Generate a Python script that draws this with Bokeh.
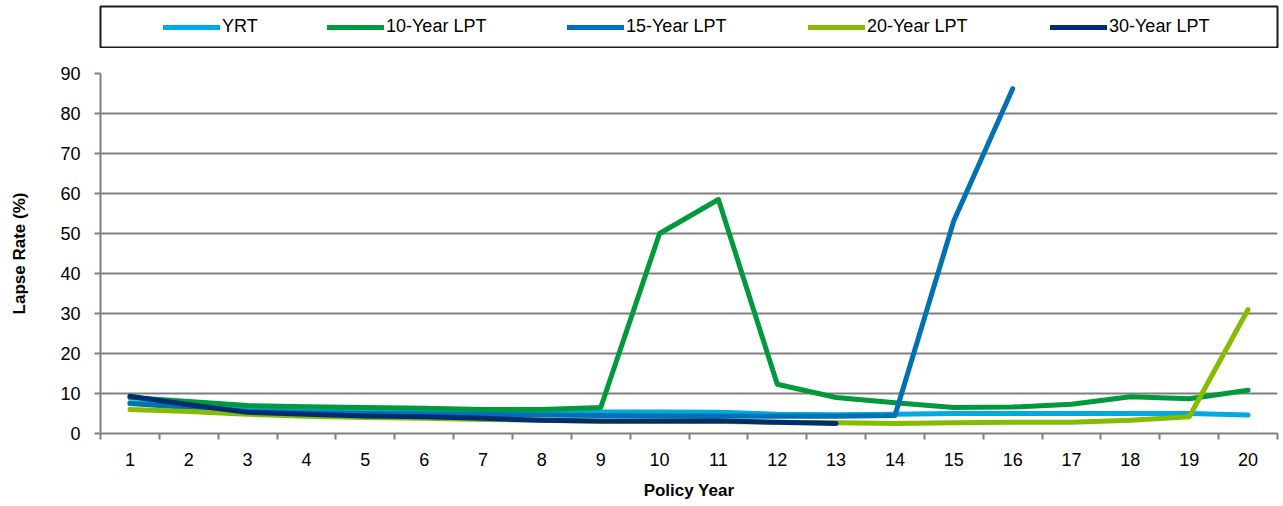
from bokeh.plotting import figure
from bokeh.models import (Legend, LegendItem, FixedTicker, ColumnDataSource, Range1d)
from bokeh.layouts import column
from bokeh.embed import file_html
from bokeh.resources import INLINE

# ---- data ----
policy_years = [1, 2, 3, 4, 5, 6, 7, 8, 9, 10, 11, 12, 13, 14, 15, 16, 17, 18, 19, 20]
yrt = [7.7, 7.0, 6.3, 6.0, 5.8, 5.7, 5.5, 5.5, 5.4, 5.4, 5.3, 4.8, 4.7, 4.8, 5.0, 5.0, 5.0, 5.0, 5.0, 4.6]
lpt10 = [9.0, 8.0, 7.0, 6.7, 6.5, 6.3, 6.0, 6.0, 6.5, 50.0, 58.5, 12.3, 9.0, 7.7, 6.5, 6.6, 7.3, 9.2, 8.7, 10.8]
years15 = [1, 2, 3, 4, 5, 6, 7, 8, 9, 10, 11, 12, 13, 14, 15, 16]
lpt15 = [7.5, 6.5, 5.5, 5.2, 5.0, 4.9, 4.8, 4.6, 4.5, 4.4, 4.4, 4.3, 4.3, 4.5, 53.2, 86.2]
lpt20 = [6.0, 5.5, 4.8, 4.3, 4.0, 3.8, 3.5, 3.3, 3.0, 3.0, 3.0, 2.8, 2.7, 2.5, 2.7, 2.8, 2.8, 3.3, 4.2, 31.0]
years30 = [1, 2, 3, 4, 5, 6, 7, 8, 9, 10, 11, 12, 13]
lpt30 = [9.3, 7.2, 5.3, 4.8, 4.4, 4.2, 3.8, 3.3, 3.1, 3.1, 3.2, 2.8, 2.5]
series_names = ["YRT", "10-Year LPT", "15-Year LPT", "20-Year LPT", "30-Year LPT"]
series_colors = ["#00A9E0", "#009A3D", "#0071B2", "#84BD00", "#002D72"]
y_ticks = [0, 10, 20, 30, 40, 50, 60, 70, 80, 90]

FONT = "Liberation Sans"
GRID = "#808080"

# ---- legend strip (boxed) ----
top = figure(width=1283, height=48, output_backend="svg", toolbar_location=None,
             x_axis_location=None, y_axis_location=None,
             x_range=Range1d(0, 1), y_range=Range1d(0, 1),
             min_border_left=100, min_border_right=0, min_border_top=6, min_border_bottom=1)
top.grid.visible = False
top.outline_line_color = "#1a1a1a"
top.outline_line_width = 2
top.background_fill_color = "white"
top.border_fill_color = "white"

legend_x = [63, 227, 467, 708, 950]
for name, color, lx in zip(series_names, series_colors, legend_x):
    # off-range proxy line, used only for the legend swatch
    r = top.line([-5, -4], [-5, -5], line_color=color, line_width=5, line_cap="round")
    lg = Legend(items=[LegendItem(label=name, renderers=[r])], location=(lx, 10),
                orientation="horizontal", padding=0, margin=0, border_line_alpha=0,
                background_fill_alpha=0, glyph_width=57, glyph_height=20,
                label_standoff=2, label_text_font=FONT, label_text_font_size="18px",
                label_text_color="#000000", label_height=20)
    top.add_layout(lg, "center")

# ---- main chart ----
p = figure(width=1283, height=458, output_backend="svg", toolbar_location=None,
           x_range=Range1d(0.5, 20.5), y_range=Range1d(0, 90),
           min_border_left=97, min_border_right=6, min_border_top=25, min_border_bottom=73)
p.outline_line_color = None
p.background_fill_color = "white"
p.border_fill_color = "white"

p.xgrid.visible = False
p.ygrid.ticker = FixedTicker(ticks=y_ticks)
p.ygrid.grid_line_color = GRID
p.ygrid.grid_line_width = 2

p.yaxis.ticker = FixedTicker(ticks=y_ticks)
p.yaxis.axis_line_color = GRID
p.yaxis.axis_line_width = 2
p.yaxis.major_tick_line_color = GRID
p.yaxis.major_tick_line_width = 2
p.yaxis.major_tick_in = 0
p.yaxis.major_tick_out = 6
p.yaxis.minor_tick_line_color = None
p.yaxis.major_label_standoff = 14
p.yaxis.major_label_text_font = FONT
p.yaxis.major_label_text_font_size = "18px"
p.yaxis.major_label_text_color = "#000000"
p.yaxis.axis_label = "Lapse Rate (%)"
p.yaxis.axis_label_text_font = FONT
p.yaxis.axis_label_text_font_size = "17px"
p.yaxis.axis_label_text_font_style = "bold"
p.yaxis.axis_label_text_color = "#000000"
p.yaxis.axis_label_standoff = 28

p.xaxis.ticker = FixedTicker(ticks=policy_years,
                             minor_ticks=[v - 0.5 for v in policy_years] + [20.5])
p.xaxis.axis_line_color = GRID
p.xaxis.axis_line_width = 2
p.xaxis.major_tick_line_color = None
p.xaxis.major_tick_out = 5
p.xaxis.major_tick_in = 0
p.xaxis.minor_tick_line_color = GRID
p.xaxis.minor_tick_line_width = 2
p.xaxis.minor_tick_out = 6
p.xaxis.minor_tick_in = 0
p.xaxis.major_label_standoff = 13
p.xaxis.major_label_text_font = FONT
p.xaxis.major_label_text_font_size = "18px"
p.xaxis.major_label_text_color = "#000000"
p.xaxis.axis_label = "Policy Year"
p.xaxis.axis_label_text_font = FONT
p.xaxis.axis_label_text_font_size = "17px"
p.xaxis.axis_label_text_font_style = "bold"
p.xaxis.axis_label_text_color = "#000000"
p.xaxis.axis_label_standoff = 12

series = [(policy_years, yrt), (policy_years, lpt10), (years15, lpt15),
          (policy_years, lpt20), (years30, lpt30)]
for (xs, ys), color in zip(series, series_colors):
    src = ColumnDataSource(dict(x=xs, y=ys))
    p.line("x", "y", source=src, line_color=color, line_width=5,
           line_cap="round", line_join="round")

layout = column(top, p, spacing=0)
open("out.html", "w").write(file_html(layout, INLINE))
